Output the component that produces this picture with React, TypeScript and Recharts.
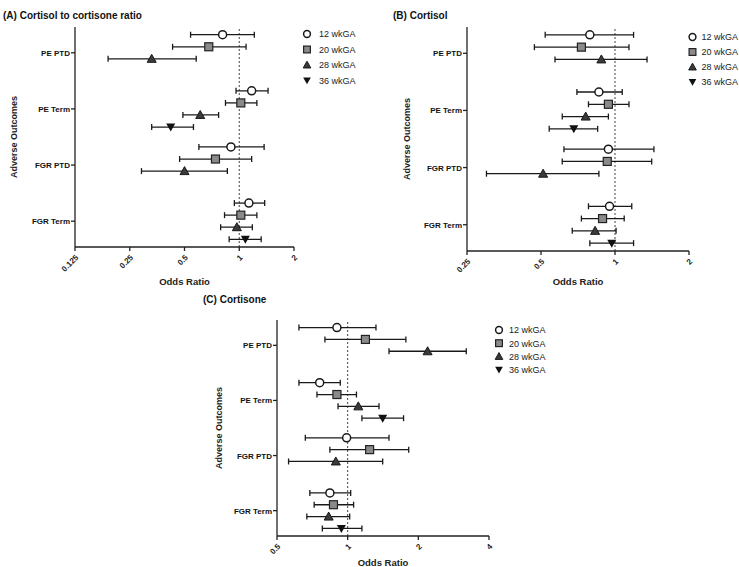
import React from 'react';
import { ScatterChart, Scatter, XAxis, YAxis, ErrorBar, ReferenceLine } from 'recharts';

const outcomes = ['PE PTD', 'PE Term', 'FGR PTD', 'FGR Term'];
const weeks = ['12 wkGA', '20 wkGA', '28 wkGA', '36 wkGA'];
const markerKinds = ['circle', 'square', 'triangle', 'down'];

// each entry: [odds ratio, lower CI, upper CI] per outcome, null = not measured
// (A) cortisol to cortisone ratio
const ratioWk12 = [[0.81, 0.54, 1.21], [1.17, 0.96, 1.44], [0.9, 0.6, 1.37], [1.13, 0.94, 1.38]];
const ratioWk20 = [[0.68, 0.43, 1.09], [1.02, 0.84, 1.25], [0.74, 0.47, 1.17], [1.02, 0.83, 1.25]];
const ratioWk28 = [[0.33, 0.19, 0.58], [0.61, 0.49, 0.77], [0.5, 0.29, 0.86], [0.97, 0.79, 1.18]];
const ratioWk36 = [null, [0.42, 0.33, 0.56], null, [1.08, 0.88, 1.32]];
const ratioTicks = [0.125, 0.25, 0.5, 1, 2];

// (B) cortisol
const cortisolWk12 = [[0.79, 0.52, 1.19], [0.86, 0.7, 1.07], [0.94, 0.62, 1.44], [0.95, 0.78, 1.17]];
const cortisolWk20 = [[0.73, 0.47, 1.14], [0.94, 0.78, 1.14], [0.93, 0.61, 1.41], [0.89, 0.73, 1.09]];
const cortisolWk28 = [[0.88, 0.57, 1.35], [0.76, 0.61, 0.94], [0.51, 0.3, 0.86], [0.83, 0.67, 1.01]];
const cortisolWk36 = [null, [0.68, 0.54, 0.85], null, [0.97, 0.79, 1.19]];
const cortisolTicks = [0.25, 0.5, 1, 2];

// (C) cortisone
const cortisoneWk12 = [[0.9, 0.62, 1.32], [0.76, 0.62, 0.93], [0.99, 0.66, 1.5], [0.84, 0.69, 1.03]];
const cortisoneWk20 = [[1.19, 0.8, 1.77], [0.9, 0.74, 1.09], [1.24, 0.84, 1.82], [0.87, 0.72, 1.06]];
const cortisoneWk28 = [[2.19, 1.5, 3.2], [1.11, 0.91, 1.36], [0.89, 0.56, 1.41], [0.83, 0.67, 1.02]];
const cortisoneWk36 = [null, [1.41, 1.15, 1.73], null, [0.94, 0.78, 1.15]];
const cortisoneTicks = [0.5, 1, 2, 4];

const FONT = '"Liberation Sans", Arial, Helvetica, sans-serif';
const INK = '#1a1a1a';

type CI = number[] | null;

const toRows = (values: CI[], s: number) =>
  values.flatMap((v, i) =>
    v ? [{ outcome: outcomes[i], y: i + 1 + (s - 1.5) * 0.215, or: v[0], err: [v[0] - v[1], v[2] - v[0]] }] : []
  );

function Marker({ kind, cx, cy, k = 1 }: { kind: string; cx: number; cy: number; k?: number }) {
  if (kind === 'circle') return <circle cx={cx} cy={cy} r={4 * k} fill="#fff" stroke={INK} strokeWidth={1.5} />;
  if (kind === 'square')
    return (
      <rect x={cx - 4 * k} y={cy - 4 * k} width={8 * k} height={8 * k} fill="#8a8a8a" stroke="#222" strokeWidth={1.2} />
    );
  if (kind === 'triangle')
    return (
      <path
        d={`M${cx},${cy - 4.5 * k}L${cx + 4.5 * k},${cy + 3.5 * k}L${cx - 4.5 * k},${cy + 3.5 * k}Z`}
        fill="#3a3a3a"
        stroke={INK}
        strokeWidth={1}
      />
    );
  return <path d={`M${cx - 4.5 * k},${cy - 3.5 * k}L${cx + 4.5 * k},${cy - 3.5 * k}L${cx},${cy + 4.5 * k}Z`} fill="#111" />;
}

const AngleTick = ({ x, y, payload }: any) => (
  <text
    x={x + 4}
    y={y + 5}
    textAnchor="end"
    transform={`rotate(-45 ${x + 4} ${y + 5})`}
    fontSize={8}
    fontWeight="bold"
    fill="#222"
  >
    {payload.value}
  </text>
);

const OutcomeTick = ({ x, y, payload }: any) => (
  <text x={x} y={y} dy={3} textAnchor="end" fontSize={8} fontWeight="bold" fill="#111">
    {outcomes[payload.value - 1]}
  </text>
);

function Legend({ x, y, gap, step }: { x: number; y: number; gap: number; step: number }) {
  return (
    <g>
      {weeks.map((w, i) => (
        <g key={w}>
          <Marker kind={markerKinds[i]} cx={x} cy={y + i * step} k={0.85} />
          <text x={x + gap} y={y + i * step + 3.3} fontSize={9} fill="#222">
            {w}
          </text>
        </g>
      ))}
    </g>
  );
}

interface PanelProps {
  left: number;
  top: number;
  width: number;
  height: number;
  margin: { top: number; right: number; bottom: number; left: number };
  xHeight: number;
  xLabelOffset: number;
  yLabelOffset: number;
  domain: number[];
  ticks: number[];
  series: CI[][];
}

function Panel({ left, top, width, height, margin, xHeight, xLabelOffset, yLabelOffset, domain, ticks, series }: PanelProps) {
  return (
    <div style={{ position: 'absolute', left, top }}>
      <ScatterChart width={width} height={height} margin={margin}>
        <XAxis
          type="number"
          dataKey="or"
          scale="log"
          domain={domain}
          ticks={ticks}
          allowDataOverflow
          interval={0}
          height={xHeight}
          tickSize={4}
          tick={<AngleTick />}
          axisLine={{ stroke: '#222', strokeWidth: 1.3 }}
          tickLine={{ stroke: '#222', strokeWidth: 1.3 }}
          label={{
            value: 'Odds Ratio',
            position: 'insideBottom',
            offset: xLabelOffset,
            fontSize: 9.5,
            fontWeight: 'bold',
            fill: '#222',
          }}
        />
        <YAxis
          type="number"
          dataKey="y"
          domain={[0.54, 4.46]}
          reversed
          ticks={[1, 2, 3, 4]}
          interval={0}
          allowDataOverflow
          width={65}
          tickSize={4}
          tickMargin={1}
          tick={<OutcomeTick />}
          axisLine={{ stroke: '#222', strokeWidth: 1.3 }}
          tickLine={{ stroke: '#222', strokeWidth: 1.3 }}
          label={{
            value: 'Adverse Outcomes',
            angle: -90,
            position: 'insideLeft',
            offset: yLabelOffset,
            fontSize: 9,
            fontWeight: 'bold',
            fill: '#222',
            style: { textAnchor: 'middle' },
          }}
        />
        <ReferenceLine x={1} stroke="#444" strokeWidth={1} strokeDasharray="2 2" />
        {series.map((values, s) => (
          <Scatter
            key={weeks[s]}
            name={weeks[s]}
            data={toRows(values, s)}
            isAnimationActive={false}
            shape={(p: any) => <Marker kind={markerKinds[s]} cx={p.cx} cy={p.cy} />}
          >
            <ErrorBar dataKey="err" direction="x" width={3} stroke={INK} strokeWidth={1.3} />
          </Scatter>
        ))}
      </ScatterChart>
    </div>
  );
}

export default function App() {
  return (
    <div
      style={{
        position: 'absolute',
        left: 0,
        top: 0,
        width: 739,
        height: 567,
        background: '#fff',
        fontFamily: FONT,
        overflow: 'hidden',
      }}
    >
      <Panel
        left={0}
        top={0}
        width={370}
        height={290}
        margin={{ top: 27, right: 76, bottom: 0, left: 10 }}
        xHeight={43}
        xLabelOffset={5}
        yLabelOffset={3.5}
        domain={[0.125, 2]}
        ticks={ratioTicks}
        series={[ratioWk12, ratioWk20, ratioWk28, ratioWk36]}
      />
      <Panel
        left={370}
        top={0}
        width={369}
        height={290}
        margin={{ top: 27, right: 50, bottom: 0, left: 32 }}
        xHeight={39}
        xLabelOffset={5}
        yLabelOffset={5}
        domain={[0.25, 2]}
        ticks={cortisolTicks}
        series={[cortisolWk12, cortisolWk20, cortisolWk28, cortisolWk36]}
      />
      <Panel
        left={180}
        top={280}
        width={370}
        height={287}
        margin={{ top: 40, right: 61, bottom: 0, left: 32 }}
        xHeight={31}
        xLabelOffset={1}
        yLabelOffset={7}
        domain={[0.5, 4]}
        ticks={cortisoneTicks}
        series={[cortisoneWk12, cortisoneWk20, cortisoneWk28, cortisoneWk36]}
      />
      <svg width={739} height={567} style={{ position: 'absolute', left: 0, top: 0, pointerEvents: 'none' }}>
        <g fontWeight="bold" fontSize={10} fill="#111">
          <text x={3} y={18.5}>(A) Cortisol to cortisone ratio</text>
          <text x={393} y={18.5}>(B) Cortisol</text>
          <text x={203} y={303}>(C) Cortisone</text>
        </g>
        <Legend x={307} y={34} gap={12} step={15.5} />
        <Legend x={692.5} y={37} gap={9} step={15} />
        <Legend x={499} y={330} gap={10} step={13.2} />
      </svg>
    </div>
  );
}
